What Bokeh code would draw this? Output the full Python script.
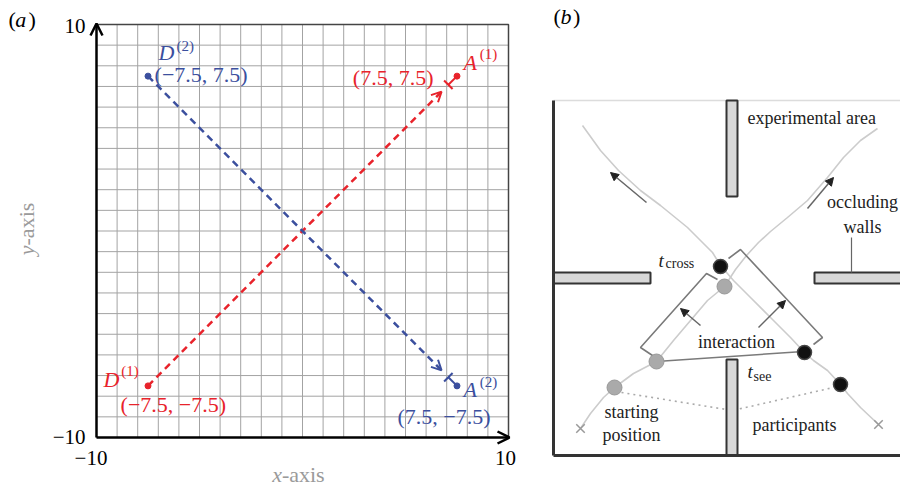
import numpy as np
from bokeh.plotting import figure
from bokeh.models import Range1d, Arrow, OpenHead, NormalHead, TeeHead
from bokeh.layouts import row
from bokeh.core.properties import value
from bokeh.embed import file_html
from bokeh.resources import INLINE

SERIF = "Liberation Serif"
RED = "#e8232b"
BLUE = "#3b4f9e"
GREY_TXT = "#9a9a9a"
TEXT_SHIFT_PX = 6.0   # raise texts a little (baseline correction)

# ---------------- panel (a) data ----------------
axis_lim = [-10, 10]
grid_ticks = list(range(-10, 11))
tick_values = [-10, 10]

agent_names = ["1", "2"]
dep_x = [-7.5, -7.5]      # D(1), D(2)
dep_y = [-7.5, 7.5]
arr_x = [7.5, 7.5]        # A(1), A(2)
arr_y = [7.5, -7.5]
agent_colors = [RED, BLUE]

PX_A_X, PX_A_Y = 20.6, 20.65     # pixels per unit, panel (a)
PX_B = 10.0                      # pixels per unit, panel (b)


def fmt(v):
    return f"{v:g}".replace("-", "\u2212")


def put(p, x, y, txt, color, size, style="normal", align="left", angle=0.0):
    pxx, pxy = p.tags[0]
    if angle == 0.0:
        y = y + TEXT_SHIFT_PX / pxy
    else:
        x = x - TEXT_SHIFT_PX / pxx
    p.text(x=[x], y=[y], text=[txt], text_color=color, text_font=value(SERIF),
           text_font_size=size, text_font_style=style, text_align=align,
           text_baseline="alphabetic", angle=angle)


# frame covers the whole figure
pa = figure(width=548, height=488,
            x_range=Range1d(-10 - 96 / PX_A_X, 10 + 40 / PX_A_X),
            y_range=Range1d(-10 - 51 / PX_A_Y, 10 + 24 / PX_A_Y),
            output_backend="svg", toolbar_location=None,
            x_axis_location=None, y_axis_location=None, min_border=0,
            outline_line_color=None, background_fill_color="white", border_fill_color="white")
pa.tags = [(PX_A_X, PX_A_Y)]
pa.xgrid.visible = False
pa.ygrid.visible = False

lo, hi = axis_lim
pa.segment(x0=grid_ticks, x1=grid_ticks, y0=[lo] * len(grid_ticks), y1=[hi] * len(grid_ticks),
           line_color="#a3a3a3", line_width=1)
pa.segment(x0=[lo] * len(grid_ticks), x1=[hi] * len(grid_ticks), y0=grid_ticks, y1=grid_ticks,
           line_color="#a3a3a3", line_width=1)
pa.line([lo, hi, hi], [hi, hi, lo], line_color="#444444", line_width=1.5)
pa.add_layout(Arrow(x_start=lo, y_start=lo, x_end=lo, y_end=hi + 0.05,
                    line_width=2.5, line_color="black",
                    end=OpenHead(size=12, line_width=2.5, line_color="black")))
pa.add_layout(Arrow(x_start=lo, y_start=lo, x_end=hi + 0.05, y_end=lo,
                    line_width=2.5, line_color="black",
                    end=OpenHead(size=12, line_width=2.5, line_color="black")))
# tick labels
put(pa, lo - 0.53, tick_values[1] - 0.34, fmt(tick_values[1]), "black", "21px", align="right")
put(pa, lo - 0.53, tick_values[0] - 0.29, fmt(tick_values[0]), "black", "21px", align="right")
put(pa, tick_values[0] + 0.53, lo - 1.26, fmt(tick_values[0]), "black", "21px", align="right")
put(pa, tick_values[1] - 0.15, lo - 1.26, fmt(tick_values[1]), "black", "21px", align="center")

for i in range(2):
    sx, sy, gx, gy, c = dep_x[i], dep_y[i], arr_x[i], arr_y[i], agent_colors[i]
    tip_x, tip_y = sx + 0.95 * (gx - sx), sy + 0.95 * (gy - sy)
    tee_x, tee_y = sx + 0.972 * (gx - sx), sy + 0.972 * (gy - sy)
    pa.add_layout(Arrow(x_start=sx, y_start=sy, x_end=tip_x, y_end=tip_y,
                        line_dash="7 5", line_width=2.5, line_color=c,
                        end=OpenHead(size=10, line_width=2, line_color=c)))
    pa.add_layout(Arrow(x_start=gx, y_start=gy, x_end=tee_x, y_end=tee_y,
                        line_width=2, line_color=c,
                        end=TeeHead(size=12, line_width=2, line_color=c)))
    pa.scatter([sx, gx], [sy, gy], size=6, color=c)

# D(1)
put(pa, dep_x[0] - 2.16, dep_y[0] + 0.02, "D", RED, "22px", "italic")
put(pa, dep_x[0] - 1.30, dep_y[0] + 0.45, "(" + agent_names[0] + ")", RED, "15px")
put(pa, dep_x[0] - 1.33, dep_y[0] - 1.19, f"({fmt(dep_x[0])}, {fmt(dep_y[0])})", RED, "22px")
# A(1)
put(pa, arr_x[0] + 0.32, arr_y[0] + 0.37, "A", RED, "22px", "italic")
put(pa, arr_x[0] + 1.10, arr_y[0] + 0.76, "(" + agent_names[0] + ")", RED, "15px")
put(pa, arr_x[0] - 1.14, arr_y[0] - 0.36, f"({fmt(arr_x[0])}, {fmt(arr_y[0])})", RED, "22px", align="right")
# D(2)
put(pa, dep_x[1] + 0.51, dep_y[1] + 0.85, "D", BLUE, "22px", "italic")
put(pa, dep_x[1] + 1.38, dep_y[1] + 1.19, "(" + agent_names[1] + ")", BLUE, "15px")
put(pa, dep_x[1] + 0.32, dep_y[1] - 0.21, f"({fmt(dep_x[1])}, {fmt(dep_y[1])})", BLUE, "22px")
# A(2)
put(pa, arr_x[1] + 0.32, arr_y[1] - 0.47, "A", BLUE, "22px", "italic")
put(pa, arr_x[1] + 1.10, arr_y[1] - 0.08, "(" + agent_names[1] + ")", BLUE, "15px")
put(pa, arr_x[1] - 2.89, arr_y[1] - 1.77, f"({fmt(arr_x[1])}, {fmt(arr_y[1])})", BLUE, "22px")

# axis titles and panel letter
put(pa, -1.0, -12.06, "x", GREY_TXT, "22px", "italic", align="right")
put(pa, -1.0, -12.06, "-axis", GREY_TXT, "22px", align="left")
put(pa, -13.1, -0.7, "y", GREY_TXT, "22px", "italic", align="right", angle=np.pi / 2)
put(pa, -13.1, -0.7, "-axis", GREY_TXT, "22px", align="left", angle=np.pi / 2)
put(pa, -14.27, 9.95, "(", "black", "22px")
put(pa, -13.95, 9.95, "a", "black", "22px", "italic")
put(pa, -13.3, 9.95, ")", "black", "22px")

# ---------------- panel (b) data (room units, 1 unit = 10 px) ----------------
room_w = 35.0
room_h = 35.5
walls_left = [17.3, 0.0, 26.1, 17.3]
walls_right = [18.4, 9.7, 35.5, 18.4]
walls_bottom = [25.9, 17.2, 17.2, 0.0]
walls_top = [35.5, 18.3, 18.3, 9.6]

path_a_x = [2.7, 3.7, 5.0, 6.1, 8.0, 10.3, 12.0, 13.7, 15.4, 17.1, 18.2, 19.3, 20.5, 21.7, 23.4,
            25.4, 27.4, 29.0, 30.7, 32.4]
path_a_y = [2.7, 4.2, 5.8, 6.8, 8.2, 9.4, 11.5, 13.5, 15.5, 16.9, 18.6, 20.0, 21.3, 22.4, 23.8,
            25.5, 27.8, 29.8, 31.5, 32.7]
path_b_x = [32.5, 30.7, 29.4, 28.7, 27.4, 26.0, 25.1, 23.7, 21.7, 19.7, 18.0, 16.7, 15.9, 15.0,
            13.4, 10.7, 8.7, 6.5, 4.7, 2.9]
path_b_y = [3.1, 4.8, 6.2, 7.1, 8.5, 9.5, 10.3, 11.8, 13.8, 15.8, 17.5, 19.0, 20.3, 21.2,
            22.8, 25.0, 26.5, 28.5, 30.5, 33.0]
dots_a_x = [6.1, 10.3, 17.1]
dots_a_y = [6.8, 9.4, 16.9]
dots_b_x = [28.7, 25.1, 16.7]
dots_b_y = [7.1, 10.3, 18.9]
start_x = [2.7, 32.5]
start_y = [2.7, 3.1]

bracket_a_x = [10.2, 8.7, 15.3, 16.4]
bracket_a_y = [9.8, 10.8, 18.2, 17.6]
bracket_b_x = [17.5, 18.7, 26.9, 26.0]
bracket_b_y = [19.7, 20.6, 11.8, 11.1]
see_x = [10.3, 25.0]
see_y = [9.4, 10.4]
dotted_x = [6.8, 17.9, 28.0]
dotted_y = [6.3, 4.5, 6.8]

walk_arrows = [(9.3, 25.3, 5.7, 28.3), (25.4, 24.7, 28.0, 27.8)]
inter_arrows = [(14.7, 13.0, 12.7, 14.7), (20.5, 12.8, 23.2, 15.5)]

pb = figure(width=352, height=488, x_range=Range1d(-0.5, 34.7), y_range=Range1d(-3.3, 45.5),
            output_backend="svg", toolbar_location=None,
            x_axis_location=None, y_axis_location=None, min_border=0,
            outline_line_color=None, background_fill_color="white", border_fill_color="white")
pb.tags = [(PX_B, PX_B)]
pb.xgrid.visible = False
pb.ygrid.visible = False

pb.line([0, room_w], [room_h, room_h], line_color="#dcdcdc", line_width=1.5)
pb.line(dotted_x, dotted_y, line_color="#aaaaaa", line_width=1.6, line_dash="2 4")
pb.line(path_a_x, path_a_y, line_color="#cccccc", line_width=1.6)
pb.line(path_b_x, path_b_y, line_color="#cccccc", line_width=1.6)
pb.line(bracket_a_x, bracket_a_y, line_color="#7a7a7a", line_width=1.6)
pb.line(bracket_b_x, bracket_b_y, line_color="#7a7a7a", line_width=1.6)
pb.line(see_x, see_y, line_color="#7a7a7a", line_width=1.6)
pb.quad(left=walls_left, right=walls_right, bottom=walls_bottom, top=walls_top,
        fill_color="#d8d8d8", line_color="#333333", line_width=2)
pb.line([0, 0], [0, room_h], line_color="#333333", line_width=3)
pb.line([0, room_w], [0, 0], line_color="#333333", line_width=3)
pb.line([29.8, 29.8], [21.8, walls_top[2]], line_color="#666666", line_width=1.2)

pb.scatter(dots_a_x, dots_a_y, size=15, fill_color="#aaaaaa", line_color="#999999", line_width=1)
pb.scatter(dots_b_x, dots_b_y, size=14, fill_color="#111111", line_color="#444444", line_width=1.5)
pb.scatter(start_x, start_y, marker="x", size=12, line_color="#999999", line_width=1.5)

for (x0, y0, x1, y1) in walk_arrows + inter_arrows:
    pb.add_layout(Arrow(x_start=x0, y_start=y0, x_end=x1, y_end=y1, line_color="#666666",
                        line_width=1.5,
                        end=NormalHead(size=8, fill_color="#222222", line_color="#222222", line_width=1)))

TXT = "#222222"
put(pb, 19.4, 33.2, "experimental area", TXT, "18px")
put(pb, 30.9, 24.8, "occluding", TXT, "18px", align="center")
put(pb, 30.9, 22.3, "walls", TXT, "18px", align="center")
put(pb, 10.5, 18.9, "t", TXT, "19px", "italic")
put(pb, 11.2, 18.6, "cross", TXT, "14px")
put(pb, 18.3, 10.8, "interaction", TXT, "18px", align="center")
put(pb, 19.4, 7.8, "t", TXT, "19px", "italic")
put(pb, 20.0, 7.3, "see", TXT, "14px")
put(pb, 7.8, 3.8, "starting", TXT, "18px", align="center")
put(pb, 7.8, 1.5, "position", TXT, "18px", align="center")
put(pb, 24.1, 2.5, "participants", TXT, "18px", align="center")
put(pb, 0.0, 43.3, "(", "black", "22px")
put(pb, 0.7, 43.3, "b", "black", "22px", "italic")
put(pb, 1.95, 43.3, ")", "black", "22px")

layout = row(pa, pb)
open("out.html", "w").write(file_html(layout, INLINE))
